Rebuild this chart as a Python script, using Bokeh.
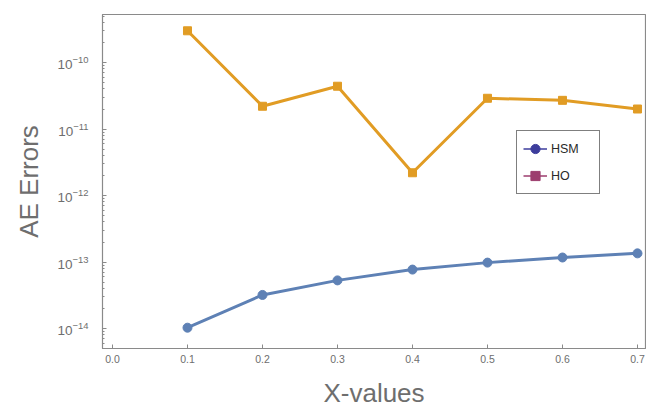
from bokeh.plotting import figure
from bokeh.models import Range1d, FixedTicker, Legend, LegendItem, ColumnDataSource
from bokeh.embed import file_html
from bokeh.resources import INLINE

# ---- data ----
x_values = [0.1, 0.2, 0.3, 0.4, 0.5, 0.6, 0.7]
hsm_errors = [1.03e-14, 3.2e-14, 5.3e-14, 7.7e-14, 9.8e-14, 1.17e-13, 1.35e-13]
ho_errors = [3.0e-10, 2.2e-11, 4.4e-11, 2.2e-12, 2.9e-11, 2.7e-11, 2.0e-11]
series_names = ["HSM", "HO"]

x_ticks = [0.0, 0.1, 0.2, 0.3, 0.4, 0.5, 0.6, 0.7]
x_tick_labels = ["0.0", "0.1", "0.2", "0.3", "0.4", "0.5", "0.6", "0.7"]
y_ticks = [1e-14, 1e-13, 1e-12, 1e-11, 1e-10]

FONT = "Liberation Sans"
GRAY = "#8a8a8a"
TXT = "#6e6e6e"

p = figure(width=646, height=410, y_axis_type="log",
           x_range=Range1d(-0.01333, 0.7107),
           y_range=Range1d(10 ** -14.30, 10 ** -9.278),
           output_backend="svg", toolbar_location=None,
           min_border_left=102, min_border_top=14, min_border_bottom=62,
           min_border_right=1)
p.background_fill_color = "white"
p.border_fill_color = "white"
p.outline_line_color = GRAY
p.outline_line_width = 1.2
p.xgrid.visible = False
p.ygrid.visible = False

src = ColumnDataSource(dict(x=x_values, hsm=hsm_errors, ho=ho_errors))

blue = "#5e81b5"
orange = "#e19c24"
p.line("x", "ho", source=src, color=orange, line_width=3)
p.scatter("x", "ho", source=src, marker="square", size=8, color=orange)
p.line("x", "hsm", source=src, color=blue, line_width=3)
p.scatter("x", "hsm", source=src, marker="circle", size=9, color=blue)

# x axis
xa = p.xaxis[0]
xa.ticker = FixedTicker(ticks=x_ticks, minor_ticks=[])
xa.major_label_overrides = {t: l for t, l in zip(x_ticks, x_tick_labels)}
xa.axis_label = "X-values"

ymin = [m * 10.0 ** e for e in range(-15, -9) for m in range(2, 10)]
ya = p.yaxis[0]
ya.ticker = FixedTicker(ticks=y_ticks, minor_ticks=ymin)
ya.axis_label = "AE Errors"

for ax in (xa, ya):
    ax.axis_line_color = GRAY
    ax.major_tick_line_color = GRAY
    ax.minor_tick_line_color = GRAY
    ax.major_tick_in = 4
    ax.major_tick_out = 0
    ax.minor_tick_in = 2
    ax.minor_tick_out = 0
    ax.major_label_text_font = FONT
    ax.major_label_text_color = TXT
    ax.axis_label_text_font = FONT
    ax.axis_label_text_font_size = "26px"
    ax.axis_label_text_font_style = "normal"
    ax.axis_label_text_color = TXT

xa.major_label_text_font_size = "10.5px"
ya.major_label_text_font_size = "13.5px"
xa.major_label_standoff = 6
xa.axis_label_standoff = 12
ya.major_label_standoff = 14
ya.axis_label_standoff = 10

# legend (its own colours, as in the reference); renderers carry no points
nan = float("nan")
leg_src = ColumnDataSource(dict(x=[nan], y=[nan]))
r1l = p.line("x", "y", source=leg_src, color="#3d3d9c", line_width=1.5)
r1m = p.scatter("x", "y", source=leg_src, marker="circle", size=6.5, color="#3d3d9c")
r2l = p.line("x", "y", source=leg_src, color="#9c3d6e", line_width=1.5)
r2m = p.scatter("x", "y", source=leg_src, marker="square", size=5.5, color="#9c3d6e")
legend = Legend(items=[LegendItem(label=series_names[0], renderers=[r1l, r1m]),
                       LegendItem(label=series_names[1], renderers=[r2l, r2m])],
                location=(414, 154), orientation="vertical")
legend.border_line_color = "black"
legend.border_line_width = 1.3
legend.background_fill_color = "white"
legend.background_fill_alpha = 1
legend.padding = 6
legend.spacing = 4
legend.margin = 0
legend.glyph_width = 24
legend.glyph_height = 23
legend.label_height = 23
legend.label_standoff = 4
legend.label_width = 42
legend.label_text_font = FONT
legend.label_text_font_size = "12.5px"
legend.label_text_color = "#2a2a2a"
p.add_layout(legend, "center")

open("out.html", "w").write(file_html(p, INLINE))
